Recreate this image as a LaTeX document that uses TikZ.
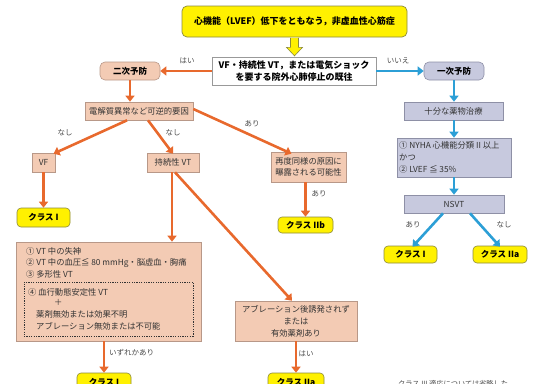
\documentclass[tikz,border=0pt]{standalone}
\usepackage{fontspec}
\setmainfont{Noto Sans CJK JP}
\usetikzlibrary{arrows.meta,calc}
\definecolor{org}{HTML}{E8692D}
\definecolor{peachf}{HTML}{F3CBB4}
\definecolor{peachd}{HTML}{B89888}
\definecolor{lavf}{HTML}{C7C9DE}
\definecolor{lavd}{HTML}{8E90A6}
\definecolor{yel}{HTML}{FFF100}
\definecolor{yeld}{HTML}{8C8A3C}
\definecolor{blu}{HTML}{2C9FD6}
\definecolor{txt}{HTML}{333333}
\definecolor{lblc}{HTML}{4A4A4A}
\begin{document}
\begin{tikzpicture}[x=1pt,y=-1pt,
  every node/.style={inner sep=0pt, text=txt, font=\fontsize{8.3}{11}\selectfont},
  peach/.style={rectangle, fill=peachf, draw=peachd, line width=0.6pt},
  lav/.style={rectangle, fill=lavf, draw=lavd, line width=0.6pt},
  cls/.style={rectangle, rounded corners=4pt, fill=yel, draw=yeld, line width=0.6pt, text=black, font=\fontsize{8.5}{10}\selectfont\bfseries},
  prevbox/.style={rectangle, rounded corners=5pt, line width=0.6pt, text=black, font=\fontsize{8.5}{10}\selectfont\bfseries},
  oarr/.style={draw=org, line width=2.6pt, -{Triangle[length=6pt,width=9pt]}},
  barr/.style={draw=blu, line width=2.6pt, -{Triangle[length=6pt,width=9pt]}},
  lbl/.style={font=\fontsize{7.5}{9}\selectfont, text=lblc},
  boxtext/.style={anchor=west, font=\fontsize{8.3}{10}\selectfont},
]
\useasboundingbox (0,0) rectangle (541,383);
\clip (0,0) rectangle (541,383);

% top box
\node[rectangle, rounded corners=5pt, fill=yel, draw=yeld, line width=0.7pt, minimum width=225, minimum height=31, text=black, font=\fontsize{9}{11}\selectfont\bfseries] (top) at (294.5,21.5) {心機能（LVEF）低下をともなう，非虚血性心筋症};
% yellow block arrow
\coordinate (ya) at (top.south);
\draw[fill=yel, draw=yeld, line width=0.6pt] ($(ya)+(-4,0.5)$) -- ($(ya)+(-4,10)$) -- ($(ya)+(-8,10)$) -- ($(ya)+(0,18.5)$) -- ($(ya)+(8,10)$) -- ($(ya)+(4,10)$) -- ($(ya)+(4,0.5)$);

% question
\node[rectangle, fill=white, draw=gray!80, line width=0.6pt, minimum width=164, minimum height=28, align=center, text=black, font=\fontsize{9}{12}\selectfont\bfseries] (q) at (294,71) {VF・持続性 VT，または電気ショック\\を要する院外心肺停止の既往};

\node[prevbox, fill=peachf, draw=peachd, minimum width=60, minimum height=18] (sec) at (130,71) {二次予防};
\node[prevbox, fill=lavf, draw=lavd, minimum width=60, minimum height=18] (pri) at (454,71) {一次予防};

\draw[oarr] (q.west) -- (sec.east);
\node[lbl] (l1) at (187,61) {はい};
\draw[barr] (q.east) -- (pri.west);
\node[lbl] (l2) at (398,61) {いいえ};

% secondary branch
\node[peach, minimum width=108, minimum height=18] (rev) at (139,111) {電解質異常など可逆的要因};
\draw[oarr] (sec.south) -- (sec.south |- rev.north);

\node[peach, minimum width=23, minimum height=19] (vf) at (43.5,162.5) {VF};
\node[peach, minimum width=52, minimum height=19] (svt) at (173,162.5) {持続性 VT};
\node[peach, minimum width=75, minimum height=30, align=center, font=\fontsize{8.3}{11.5}\selectfont] (again) at (308.5,167) {再度同様の原因に\\曝露される可能性};

\draw[oarr] ([xshift=-12pt]rev.south) -- ([xshift=10pt,yshift=-1pt]vf.north);
\node[lbl] (l3) at (65,133) {なし};
\draw[oarr] ([xshift=9pt]rev.south) -- ([yshift=-1pt]svt.north);
\node[lbl] (l4) at (173,133) {なし};
\draw[oarr] ([yshift=2pt]rev.east) -- ([xshift=-17pt,yshift=-2pt]again.north);
\node[lbl] (l5) at (252,124) {あり};

\node[cls, minimum width=53, minimum height=19] (c1a) at (43.5,217.5) {クラス I};
\draw[oarr] (vf.south) -- (vf.south |- c1a.north);

\node[cls, minimum width=55, minimum height=16] (c2b) at (305.5,225) {クラス IIb};
\draw[oarr] (c2b.north |- again.south) -- (c2b.north);
\node[lbl] (l6) at (319,194) {あり};

% big box
\node[peach, minimum width=185, minimum height=99] (big) at (108.5,291.5) {};
\node[rectangle, draw=txt, dashed, line width=0.5pt, dash pattern=on 1.2pt off 1.2pt, minimum width=169, minimum height=54] (dbox) at (108.5,309) {};
\node[boxtext] (t1) at (26,251) {① VT 中の失神};
\node[boxtext] (t2) at (26,263) {② VT 中の血圧≦ 80 mmHg・脳虚血・胸痛};
\node[boxtext] (t3) at (26,274.5) {③ 多形性 VT};
\node[boxtext] (t4) at (28,292) {④ 血行動態安定性 VT};
\node[boxtext] (t5) at (54,302.5) {＋};
\node[boxtext] (t6) at (36,314) {薬剤無効または効果不明};
\node[boxtext] (t7) at (36,326) {アブレーション無効または不可能};

\draw[oarr] ([xshift=-1pt]svt.south) -- ([xshift=-1pt]svt.south |- big.north);

\node[peach, minimum width=122, minimum height=40, align=center, font=\fontsize{8.3}{12}\selectfont] (abl) at (296,321) {アブレーション後誘発されず\\または\\有効薬剤あり};
\draw[oarr] ([xshift=2pt]svt.south) -- ([xshift=-4pt]abl.north);

\node[cls, minimum width=54, minimum height=19] (c1c) at (104,382.5) {クラス I};
\node[cls, minimum width=56, minimum height=19] (c2c) at (296,382.5) {クラス IIa};
\draw[oarr] (c1c.north |- big.south) -- (c1c.north);
\node[lbl, anchor=west] (l7) at (109,353) {いずれかあり};
\draw[oarr] (abl.south) -- (c2c.north);
\node[lbl] (l8) at (306,354) {はい};

% primary branch
\node[lav, minimum width=99, minimum height=18] (drug) at (453.5,111) {十分な薬物治療};
\draw[barr] (pri.south) -- (pri.south |- drug.north);
\node[lav, minimum width=114, minimum height=39] (nyha) at (454,157.5) {};
\node[anchor=west, align=left, font=\fontsize{8.3}{12}\selectfont] (nyhat) at (399,157.5) {① NYHA 心機能分類 II 以上\\かつ\\② LVEF ≦ 35\%};
\draw[barr] (pri.south |- drug.south) -- (pri.south |- nyha.north);
\node[lav, minimum width=100, minimum height=18] (nsvt) at (454,204) {NSVT};
\draw[barr] (pri.south |- nyha.south) -- (pri.south |- nsvt.north);

\node[cls, minimum width=53, minimum height=17] (c1b) at (410.5,254.5) {クラス I};
\node[cls, minimum width=54, minimum height=17] (c2a) at (500,254.5) {クラス IIa};
\draw[barr] ([xshift=-11pt]nsvt.south) -- ([xshift=2pt,yshift=-1pt]c1b.north);
\node[lbl] (l9) at (413,225) {あり};
\draw[barr] ([xshift=16pt]nsvt.south) -- ([yshift=-1pt]c2a.north);
\node[lbl] (l10) at (504,225) {なし};

\node[lbl, anchor=north west, font=\fontsize{7.2}{9}\selectfont] (note) at (398,380.5) {クラス III 適応については省略した．};
\end{tikzpicture}
\end{document}
